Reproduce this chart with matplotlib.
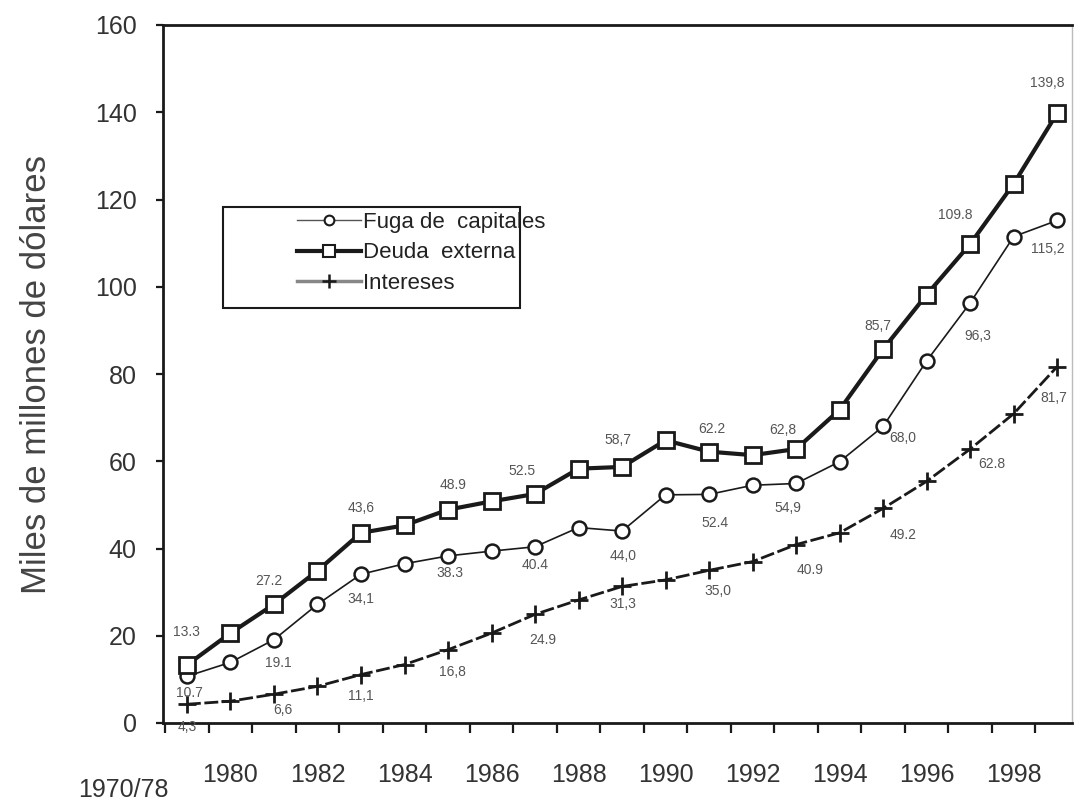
import numpy as np
import matplotlib
matplotlib.use('Agg')
import matplotlib.pyplot as plt
from matplotlib.patches import Rectangle
from matplotlib.lines import Line2D

plt.rcParams['font.family'] = ['Liberation Sans', 'DejaVu Sans']

# categories: first point is the 1970/78 average, then 1980 ... 1999
periods = ['1970/78'] + [str(y) for y in range(1980, 2000)]
tick_years = ['1980', '1982', '1984', '1986', '1988', '1990', '1992', '1994', '1996', '1998']

deuda = [13.3, 20.6, 27.2, 34.9, 43.6, 45.3, 48.9, 50.8, 52.5, 58.3, 58.7, 64.8,
         62.2, 61.4, 62.8, 71.8, 85.7, 98.2, 109.8, 123.6, 139.8]
fuga = [10.7, 13.9, 19.1, 27.2, 34.1, 36.5, 38.3, 39.4, 40.4, 44.8, 44.0, 52.3,
        52.4, 54.5, 54.9, 59.9, 68.0, 83.0, 96.3, 111.5, 115.2]
intereses = [4.3, 5.0, 6.6, 8.4, 11.1, 13.4, 16.8, 20.6, 24.9, 28.2, 31.3, 32.8,
             35.0, 37.0, 40.9, 43.6, 49.2, 55.4, 62.8, 70.9, 81.7]

# labelled points and the text printed next to them
lab_idx = [0, 2, 4, 6, 8, 10, 12, 14, 16, 18, 20]
deuda_txt = ['13.3', '27.2', '43,6', '48.9', '52.5', '58,7', '62.2', '62,8', '85,7', '109.8', '139,8']
fuga_txt = ['10.7', '19.1', '34,1', '38.3', '40.4', '44,0', '52.4', '54,9', '68,0', '96,3', '115,2']
int_txt = ['4,3', '6,6', '11,1', '16,8', '24.9', '31,3', '35,0', '40.9', '49.2', '62.8', '81,7']

# label offsets in pixels (dx, dy)
deuda_off = [(0, 33), (-5, 23), (0, 25), (5, 25), (-13, 23), (-4, 27), (3, 23), (-13, 19), (-5, 23), (-15, 29), (-10, 30)]
fuga_off = [(3, -17), (4, -23), (0, -25), (2, -17), (0, -18), (1, -25), (6, -29), (-8, -25), (20, -12), (8, -33), (-9, -29)]
int_off = [(0, -23), (9, -16), (0, -21), (4, -22), (8, -26), (1, -18), (9, -21), (14, -25), (20, -27), (22, -15), (-3, -31)]

x = np.arange(len(periods))

fig = plt.figure(figsize=(10.76, 8.02), dpi=100)
ax = fig.add_axes([163 / 1076, 1 - 723 / 802, 909 / 1076, 698 / 802])

ink = '#1a1a1a'
ax.plot(x, intereses, color=ink, lw=2.0, linestyle=(0, (5, 1.3)), marker='+', ms=13, mew=2.0, zorder=3)
ax.plot(x, fuga, color=ink, lw=1.2, marker='o', ms=10, mfc='white', mec=ink, mew=1.8, zorder=4)
ax.plot(x, deuda, color=ink, lw=3.0, marker='s', ms=11, mfc='white', mec=ink, mew=2.0, zorder=5)

px = 0.72  # points per pixel at 100 dpi
for vals, txts, offs in [(deuda, deuda_txt, deuda_off), (fuga, fuga_txt, fuga_off), (intereses, int_txt, int_off)]:
    for i, t, (dx, dy) in zip(lab_idx, txts, offs):
        ax.annotate(t, (x[i], vals[i]), xytext=(dx * px, dy * px), textcoords='offset points',
                    ha='center', va='center', fontsize=10, color='#555555')

ax.set_xlim(-0.55, 20.34)
ax.set_ylim(0, 160)
ax.set_yticks(np.arange(0, 161, 20))
ax.set_xticks(x[1::2])
ax.set_xticklabels(tick_years)
ax.set_xticks(np.arange(-0.5, 20, 1), minor=True)
ax.tick_params(axis='x', which='major', length=0, pad=29, labelsize=18, labelcolor='#333333')
ax.tick_params(axis='x', which='minor', length=7, width=1.6, direction='out', color=ink)
ax.tick_params(axis='y', length=5, width=1.6, direction='out', pad=14, labelsize=18,
               labelcolor='#333333', color=ink)

ax.text(-1.47, -0.096, periods[0], transform=ax.get_xaxis_transform(), ha='center', va='center',
        fontsize=18, color='#333333')

ax.set_ylabel('Miles de millones de dólares', fontsize=25, color='#444444', labelpad=30)

for s in ['left', 'bottom', 'top']:
    ax.spines[s].set_linewidth(2.0)
    ax.spines[s].set_color(ink)
ax.spines['right'].set_linewidth(1.0)
ax.spines['right'].set_color('#bbbbbb')

# legend box with wide left margin
ax.add_patch(Rectangle(((223 - 163) / 909, (723 - 308) / 698), 297 / 909, 101 / 698,
                       transform=ax.transAxes, fill=False, lw=1.5, ec=ink, zorder=6))
handles = [
    Line2D([], [], color='#555555', lw=1.0, marker='o', ms=7, mfc='white', mec=ink, mew=1.5),
    Line2D([], [], color=ink, lw=3.0, marker='s', ms=8, mfc='white', mec=ink, mew=1.5),
    Line2D([], [], color='#888888', lw=2.5, marker='+', ms=10, mew=1.8, mec=ink),
]
ax.legend(handles, ['Fuga de  capitales', 'Deuda  externa', 'Intereses'], loc='upper left',
          bbox_to_anchor=((297 - 163) / 909, (723 - 212) / 698), frameon=False, fontsize=16,
          handlelength=2.9, handletextpad=0.05, labelspacing=0.42, borderpad=0, borderaxespad=0,
          labelcolor='#222222')

fig.savefig('out.png', dpi=100)
